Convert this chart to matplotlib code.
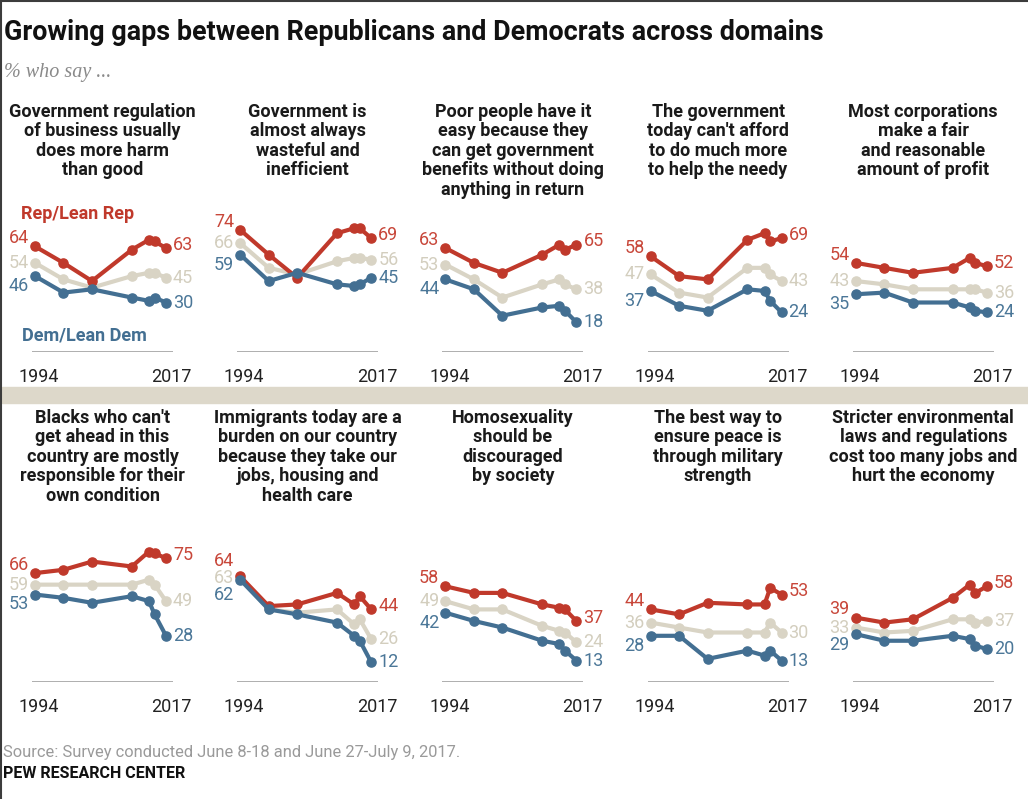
import matplotlib
matplotlib.use("Agg")
import matplotlib.pyplot as plt
from matplotlib.patches import Rectangle
from matplotlib.lines import Line2D

# survey years shown on every panel
years = [1994, 1999, 2004, 2011, 2014, 2015, 2017]

topics = [
    "Government regulation\nof business usually\ndoes more harm\nthan good",
    "Government is\nalmost always\nwasteful and\ninefficient",
    "Poor people have it\neasy because they\ncan get government\nbenefits without doing\nanything in return",
    "The government\ntoday can't afford\nto do much more\nto help the needy",
    "Most corporations\nmake a fair\nand reasonable\namount of profit",
    "Blacks who can't\nget ahead in this\ncountry are mostly\nresponsible for their\nown condition",
    "Immigrants today are a\nburden on our country\nbecause they take our\njobs, housing and\nhealth care",
    "Homosexuality\nshould be\ndiscouraged\nby society",
    "The best way to\nensure peace is\nthrough military\nstrength",
    "Stricter environmental\nlaws and regulations\ncost too many jobs and\nhurt the economy",
]

rep = [
    [64, 54, 43, 62, 68, 67, 63],
    [74, 59, 45, 72, 75, 75, 69],
    [63, 54, 48, 59, 65, 62, 65],
    [58, 46, 44, 68, 72, 67, 69],
    [54, 51, 48, 51, 57, 54, 52],
    [66, 68, 73, 70, 79, 78, 75],
    [64, 46, 47, 54, 47, 52, 44],
    [58, 54, 54, 47, 45, 44, 37],
    [44, 41, 48, 47, 47, 57, 53],
    [39, 36, 38, 51, 59, 54, 58],
]
total = [
    [54, 44, 39, 46, 48, 48, 45],
    [66, 51, 47, 55, 57, 57, 56],
    [53, 44, 33, 41, 44, 41, 38],
    [47, 36, 33, 51, 51, 47, 43],
    [43, 41, 38, 38, 38, 38, 36],
    [59, 59, 59, 59, 62, 59, 49],
    [63, 44, 42, 44, 35, 38, 26],
    [49, 44, 44, 34, 31, 30, 24],
    [36, 33, 30, 30, 30, 36, 30],
    [33, 30, 31, 38, 38, 36, 37],
]
dem = [
    [46, 36, 38, 33, 31, 33, 30],
    [59, 43, 48, 41, 40, 41, 45],
    [44, 38, 22, 27, 28, 25, 18],
    [37, 28, 25, 38, 37, 31, 24],
    [35, 36, 30, 30, 27, 25, 24],
    [53, 51, 48, 52, 49, 41, 28],
    [62, 44, 41, 36, 28, 25, 12],
    [42, 37, 33, 25, 23, 19, 13],
    [28, 28, 14, 19, 16, 19, 13],
    [29, 25, 25, 28, 26, 22, 20],
]

RED = "#c0392b"
BLUE = "#436f92"
GRAY = "#d9d4c5"
RED_TXT = "#c8473a"
BLUE_TXT = "#4b7798"
GRAY_TXT = "#d3cebe"

W, H = 1028, 799
fig = plt.figure(figsize=(W / 100, H / 100), dpi=100)
plt.rcParams['font.family'] = ['Roboto', 'DejaVu Sans']


def fx(px):
    return px / W


def fy(py):
    return 1 - py / H


PX_PER_PT = 1.65
YMAX = 84


def end_positions(r, t, d, up, down, gap=10.5):
    # keep the three value labels from piling on each other
    ry = max(r + up, t + gap)
    dy = min(d - down, t - gap)
    return ry, t, dy


for i in range(10):
    row, col = divmod(i, 5)
    left = 32 + 205.2 * col
    base = 352 if row == 0 else 682
    ax = fig.add_axes([fx(left), fy(base), 141 / W, YMAX * PX_PER_PT / H])
    ax.set_xlim(1993.47, 2018.23)
    ax.set_ylim(0, YMAX)
    ax.axis("off")
    ax.axhline(0, color="#a8a8a8", lw=1.3, zorder=0)

    for vals, c, z in ((total[i], GRAY, 1), (rep[i], RED, 2), (dem[i], BLUE, 3)):
        ax.plot(years, vals, "-o", color=c, lw=3.0, ms=6.6, zorder=z,
                clip_on=False, solid_capstyle="round", solid_joinstyle="round")

    # start labels
    ys = end_positions(rep[i][0], total[i][0], dem[i][0], 5, 6)
    for v, ly, c in zip((rep[i][0], total[i][0], dem[i][0]), ys,
                        (RED_TXT, GRAY_TXT, BLUE_TXT)):
        ax.annotate(str(v), (years[0], ly), xytext=(-6, 0),
                    textcoords="offset pixels", ha="right", va="center",
                    color=c, fontsize=13, annotation_clip=False)
    # end labels
    ys = end_positions(rep[i][-1], total[i][-1], dem[i][-1], 2, 0)
    for v, ly, c in zip((rep[i][-1], total[i][-1], dem[i][-1]), ys,
                        (RED_TXT, GRAY_TXT, BLUE_TXT)):
        ax.annotate(str(v), (years[-1], ly), xytext=(7, 0),
                    textcoords="offset pixels", ha="left", va="center",
                    color=c, fontsize=13, annotation_clip=False)

    ax.text(1994.7, -15.2, "1994", ha="center", va="center",
            fontsize=13, color="#222222", clip_on=False)
    ax.text(2018.0, -15.2, "2017", ha="center", va="center",
            fontsize=13, color="#222222", clip_on=False)

    top = 103 if row == 0 else 409
    fig.text(fx(left + 70.5), fy(top), topics[i], ha="center", va="top",
             fontsize=13, fontweight="bold", linespacing=1.1, color="#1a1a1a")

    if i == 0:
        ax.text(1991.6, 83.6, "Rep/Lean Rep", ha="left", va="center",
                fontsize=13, fontweight="bold", color=RED, clip_on=False)
        ax.text(1991.8, 10.3, "Dem/Lean Dem", ha="left", va="center",
                fontsize=13, fontweight="bold", color=BLUE, clip_on=False)

# band between the rows
fig.patches.append(Rectangle((fx(2), fy(403)), 1, 16 / H,
                             transform=fig.transFigure, color="#ddd8ca", zorder=0))
# thin frame on the top and left edge
fig.add_artist(Line2D([0, 1], [fy(1), fy(1)], color="#3c3c3c", lw=1.5))
fig.add_artist(Line2D([fx(1), fx(1)], [0, 1], color="#3c3c3c", lw=1.5))

fig.text(fx(4), fy(33), "Growing gaps between Republicans and Democrats across domains",
         ha="left", va="center", fontsize=19.4, fontweight="bold", color="#111111")
fig.text(fx(4), fy(72), "% who say ...", ha="left", va="center", fontsize=14.5,
         style="italic", family="Liberation Serif", color="#8a8a8a")
fig.text(fx(3), fy(752), "Source: Survey conducted June 8-18 and June 27-July 9, 2017.",
         ha="left", va="center", fontsize=11.9, color="#9a9a9a")
fig.text(fx(3), fy(773), "PEW RESEARCH CENTER", ha="left", va="center",
         fontsize=11.5, fontweight="bold", color="#111111")

fig.savefig("out.png", dpi=100)
